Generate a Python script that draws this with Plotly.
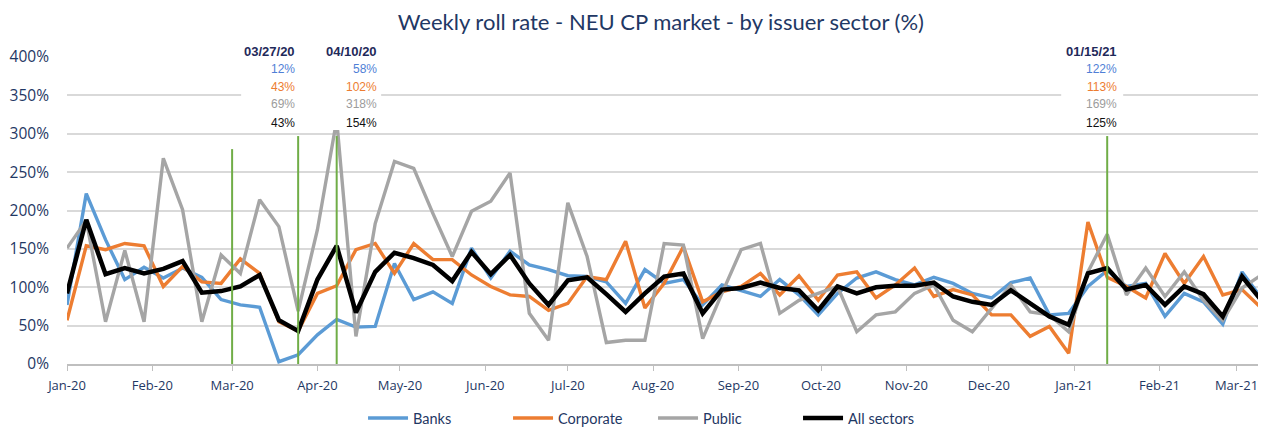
import pandas as pd
import plotly.graph_objects as go

# ---------------- data ----------------
week_start = "2020-01-03"
n_weeks = 63
weeks = pd.date_range(week_start, periods=n_weeks, freq="7D")

banks = [77, 222, 162, 110, 126, 112, 125, 113, 84, 77,
         74, 3, 12, 38, 58, 48, 49, 131, 84, 94,
         79, 151, 112, 147, 129, 123, 115, 114, 107, 79,
         123, 105, 110, 77, 103, 96, 88, 110, 90, 64,
         92, 112, 120, 110, 103, 113, 105, 92, 86, 106,
         112, 64, 66, 101, 122, 101, 105, 62, 92, 81,
         52, 120, 86]

corporate = [57, 154, 149, 157, 154, 101, 127, 107, 105, 137,
             118, 55, 43, 92, 102, 149, 157, 118, 157, 136,
             136, 116, 101, 90, 88, 70, 79, 114, 110, 160,
             73, 105, 153, 81, 94, 101, 118, 90, 115, 83,
             116, 120, 86, 103, 125, 88, 97, 90, 64, 64,
             36, 49, 14, 185, 113, 101, 86, 144, 105, 140,
             90, 97, 73]

public = [151, 187, 55, 148, 55, 268, 201, 55, 142, 118,
          214, 179, 69, 175, 318, 36, 183, 264, 255, 196,
          140, 199, 212, 249, 66, 31, 210, 140, 28, 31,
          31, 157, 155, 33, 92, 149, 157, 66, 83, 92,
          101, 42, 64, 68, 92, 103, 57, 42, 73, 103,
          68, 64, 42, 120, 169, 90, 125, 88, 120, 83,
          57, 99, 116]

all_sectors = [92, 188, 117, 125, 118, 124, 134, 93, 95, 101,
               116, 57, 43, 110, 154, 67, 120, 145, 138, 129,
               108, 146, 117, 142, 105, 77, 109, 113, 91, 68,
               92, 114, 118, 66, 97, 99, 106, 99, 96, 70,
               101, 92, 100, 102, 102, 106, 88, 81, 77, 96,
               79, 62, 51, 118, 125, 97, 103, 77, 101, 91,
               62, 114, 83]

series_names = ["Banks", "Corporate", "Public", "All sectors"]
series_values = [banks, corporate, public, all_sectors]

tick_dates = ["2020-01-03", "2020-02-03", "2020-03-03", "2020-04-03", "2020-05-03",
              "2020-06-03", "2020-07-03", "2020-08-03", "2020-09-03", "2020-10-03",
              "2020-11-03", "2020-12-03", "2021-01-03", "2021-02-03", "2021-03-03"]
tick_labels = ["Jan-20", "Feb-20", "Mar-20", "Apr-20", "May-20", "Jun-20", "Jul-20",
               "Aug-20", "Sep-20", "Oct-20", "Nov-20", "Dec-20", "Jan-21", "Feb-21", "Mar-21"]

y_ticks = [0, 50, 100, 150, 200, 250, 300, 350, 400]
y_tick_labels = ["0%", "50%", "100%", "150%", "200%", "250%", "300%", "350%", "400%"]

# highlighted dates (vertical markers + labels)
marker_dates = ["2020-03-03", "2020-03-27", "2020-04-10", "2021-01-15"]
marker_tops = [280, 297, 297, 297]

label_dates = ["2020-03-27", "2020-04-10", "2021-01-15"]
label_titles = ["03/27/20", "04/10/20", "01/15/21"]
label_banks = [12, 58, 122]
label_corporate = [43, 102, 113]
label_public = [69, 318, 169]
label_all = [43, 154, 125]

# ---------------- styles ----------------
colors = ["#5B9BD5", "#ED7D31", "#A5A5A5", "#000000"]
widths = [3.4, 3.4, 3.4, 4.5]
label_colors = ["#4F7FD6", "#ED7D31", "#9C9C9C", "#111111"]
navy = "#1F3864"
green = "#70AD47"

fig = go.Figure()
for name, vals, c, w in zip(series_names, series_values, colors, widths):
    fig.add_trace(go.Scatter(x=weeks, y=vals, name=name, mode="lines",
                             line=dict(color=c, width=w)))

# vertical green lines
for d, top in zip(marker_dates, marker_tops):
    fig.add_shape(type="line", xref="x", yref="y", x0=d, x1=d, y0=0, y1=top,
                  line=dict(color=green, width=2), layer="above")

# white label boxes (hide gridlines / lines behind labels)
fig.add_shape(type="rect", xref="x", yref="y", xsizemode="pixel", ysizemode="pixel",
              xanchor=label_dates[0], yanchor=305, x0=-57, x1=83, y0=0, y1=95,
              fillcolor="white", line=dict(width=0), layer="above")
fig.add_shape(type="rect", xref="x", yref="y", xsizemode="pixel", ysizemode="pixel",
              xanchor=label_dates[2], yanchor=305, x0=-46, x1=16, y0=0, y1=95,
              fillcolor="white", line=dict(width=0), layer="above")

label_shift = [-1, 42, 12]
row_y = [1.0173, 0.960, 0.9033, 0.8453, 0.7866]
for i, d in enumerate(label_dates):
    fig.add_annotation(x=d, y=row_y[0], xref="x", yref="paper", text="<b>" + label_titles[i] + "</b>",
                       showarrow=False, xanchor="right", yanchor="middle", xshift=label_shift[i],
                       font=dict(family="Liberation Sans", size=13, color="#1F2A5A"))
    for j, vals in enumerate([label_banks, label_corporate, label_public, label_all]):
        fig.add_annotation(x=d, y=row_y[j + 1], xref="x", yref="paper", text=f"{vals[i]}%",
                           showarrow=False, xanchor="right", yanchor="middle", xshift=label_shift[i],
                           font=dict(family="Liberation Sans", size=12, color=label_colors[j]))

# page body has an 8px margin: figure is sized/offset so the plot lands where the reference has it
fig.update_layout(
    width=1258, height=421,
    margin=dict(l=59, r=0, t=49, b=65),
    paper_bgcolor="white", plot_bgcolor="white",
    title=dict(text="Weekly roll rate - NEU CP market - by issuer sector (%)",
               x=0.519, xref="container", xanchor="center",
               y=0.9667, yref="container", yanchor="middle",
               font=dict(family="Lato", size=22, color=navy)),
    showlegend=True,
    legend=dict(orientation="h", x=0.2469, xanchor="left", xref="paper",
                y=0.026, yanchor="middle", yref="container",
                font=dict(family="Lato", size=14.5, color=navy),
                entrywidth=90, entrywidthmode="pixels", itemwidth=40),
)

fig.update_xaxes(
    type="date", range=["2020-01-03", "2021-03-13 17:00"],
    tickvals=tick_dates, ticktext=tick_labels,
    showgrid=False, showline=True, linecolor="#BFBFBF", linewidth=1.5,
    ticks="outside", ticklen=5, tickcolor="#BFBFBF", ticklabelstandoff=4,
    tickfont=dict(family="Open Sans", size=13, color=navy), zeroline=False,
)
fig.update_yaxes(
    range=[0, 400], tickvals=y_ticks, ticktext=y_tick_labels,
    showgrid=True, gridcolor="#D9D9D9", gridwidth=1.5, zeroline=False,
    ticks="", ticklabelstandoff=17,
    tickfont=dict(family="Open Sans", size=15.5, color=navy),
)

fig.write_html("out.html")
